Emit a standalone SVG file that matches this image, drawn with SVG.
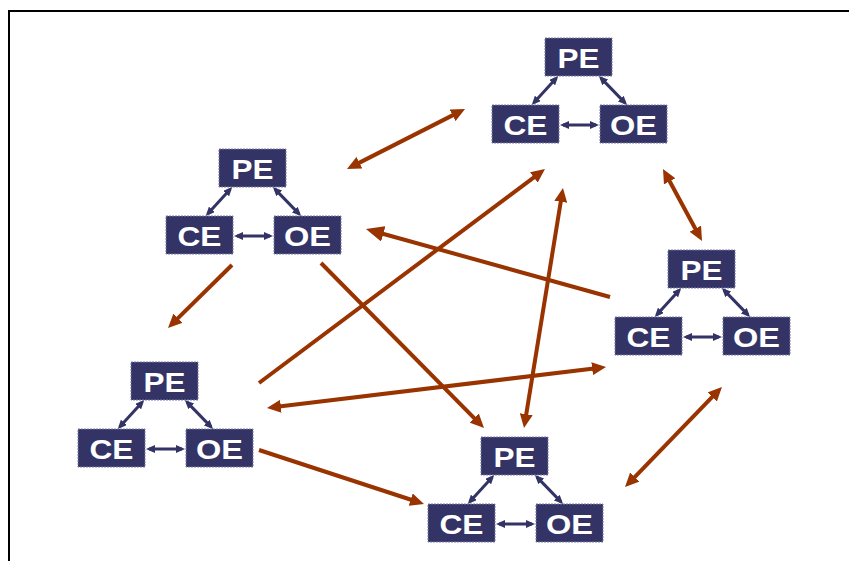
<svg xmlns="http://www.w3.org/2000/svg" width="849" height="561" viewBox="0 0 849 561">
  <style>
    .box { fill: #333366; stroke: #7c7ca4; stroke-width: 1; stroke-dasharray: 2 1; }
    .lbl { fill: #ffffff; font-family: "Liberation Sans", Arial, sans-serif; font-weight: bold; font-size: 28px; text-anchor: middle; }
    .inner { stroke: #333366; stroke-width: 3; fill: none; marker-start: url(#tipS); marker-end: url(#tipS); }
    .link { stroke: #993300; stroke-width: 4; fill: none; }
    .one { marker-end: url(#head); }
    .two { marker-start: url(#head); marker-end: url(#head); }
  </style>
  <defs>
    <marker id="head" markerUnits="userSpaceOnUse" markerWidth="14" markerHeight="13" refX="6" refY="6.5" orient="auto-start-reverse">
      <path d="M0,0 L14,6.5 L0,13 z" fill="#993300"/>
    </marker>
    <marker id="headBig" markerUnits="userSpaceOnUse" markerWidth="18" markerHeight="16" refX="8" refY="8" orient="auto-start-reverse">
      <path d="M0,0 L18,8 L0,16 z" fill="#993300"/>
    </marker>
    <marker id="tipS" markerUnits="userSpaceOnUse" markerWidth="9" markerHeight="8" refX="6" refY="4" orient="auto-start-reverse">
      <path d="M0,0 L9,4 L0,8 z" fill="#333366"/>
    </marker>
    <!-- one PE / CE / OE triad, origin at the CE box's top-left corner -->
    <g id="triad-links">
      <line class="inner" x1="64.2" y1="-26.8" x2="41.8" y2="-2.2"/>
      <line class="inner" x1="109" y1="-26.9" x2="133" y2="-2.1"/>
      <line class="inner" x1="71" y1="20" x2="104" y2="20"/>
    </g>
  </defs>

  <!-- frame -->
  <path d="M9,561 L9,11 L849,11" fill="none" stroke="#000" stroke-width="2"/>

  <!-- connectors -->
  <g id="connectors">
    <g id="triad-connectors">
      <use href="#triad-links" transform="translate(492,105)"/>
      <use href="#triad-links" transform="translate(166,216)"/>
      <use href="#triad-links" transform="translate(615,317)"/>
      <use href="#triad-links" transform="translate(78,429)"/>
      <use href="#triad-links" transform="translate(428,504)"/>
    </g>
    <line class="link two" x1="354.1" y1="165.4" x2="457.9" y2="112.6"/>
    <line class="link two" x1="666.8" y1="176.0" x2="698.2" y2="234.0"/>
    <line class="link" stroke-width="6" marker-end="url(#headBig)" x1="610" y1="297" x2="375.6" y2="231.7"/>
    <line class="link one" x1="232" y1="265" x2="173.7" y2="322.4"/>
    <line class="link one" x1="321" y1="263" x2="478.4" y2="422.3"/>
    <line class="link one" x1="259" y1="383" x2="538.6" y2="173.8"/>
    <line class="link two" x1="274.9" y1="407.0" x2="598.1" y2="368.0"/>
    <line class="link one" x1="259" y1="450" x2="416.4" y2="501.5"/>
    <line class="link two" x1="561.7" y1="195.9" x2="525.3" y2="420.1"/>
    <line class="link two" x1="716.4" y1="392.7" x2="630.6" y2="481.3"/>
  </g>

  <!-- triad 1 (top) -->
  <g id="pe-1" transform="translate(545,38)"><rect class="box" width="67" height="38"/><text class="lbl" x="33.5" y="30" textLength="42" lengthAdjust="spacingAndGlyphs">PE</text></g>
  <g id="ce-1" transform="translate(492,105)"><rect class="box" width="67" height="38"/><text class="lbl" x="33.5" y="30" textLength="44" lengthAdjust="spacingAndGlyphs">CE</text></g>
  <g id="oe-1" transform="translate(600,105)"><rect class="box" width="67" height="38"/><text class="lbl" x="33.5" y="30" textLength="47" lengthAdjust="spacingAndGlyphs">OE</text></g>

  <!-- triad 2 (upper left) -->
  <g id="pe-2" transform="translate(219,149)"><rect class="box" width="67" height="38"/><text class="lbl" x="33.5" y="30" textLength="42" lengthAdjust="spacingAndGlyphs">PE</text></g>
  <g id="ce-2" transform="translate(166,216)"><rect class="box" width="67" height="38"/><text class="lbl" x="33.5" y="30" textLength="44" lengthAdjust="spacingAndGlyphs">CE</text></g>
  <g id="oe-2" transform="translate(274,216)"><rect class="box" width="67" height="38"/><text class="lbl" x="33.5" y="30" textLength="47" lengthAdjust="spacingAndGlyphs">OE</text></g>

  <!-- triad 3 (right) -->
  <g id="pe-3" transform="translate(668,250)"><rect class="box" width="67" height="38"/><text class="lbl" x="33.5" y="30" textLength="42" lengthAdjust="spacingAndGlyphs">PE</text></g>
  <g id="ce-3" transform="translate(615,317)"><rect class="box" width="67" height="38"/><text class="lbl" x="33.5" y="30" textLength="44" lengthAdjust="spacingAndGlyphs">CE</text></g>
  <g id="oe-3" transform="translate(723,317)"><rect class="box" width="67" height="38"/><text class="lbl" x="33.5" y="30" textLength="47" lengthAdjust="spacingAndGlyphs">OE</text></g>

  <!-- triad 4 (lower left) -->
  <g id="pe-4" transform="translate(131,362)"><rect class="box" width="67" height="38"/><text class="lbl" x="33.5" y="30" textLength="42" lengthAdjust="spacingAndGlyphs">PE</text></g>
  <g id="ce-4" transform="translate(78,429)"><rect class="box" width="67" height="38"/><text class="lbl" x="33.5" y="30" textLength="44" lengthAdjust="spacingAndGlyphs">CE</text></g>
  <g id="oe-4" transform="translate(186,429)"><rect class="box" width="67" height="38"/><text class="lbl" x="33.5" y="30" textLength="47" lengthAdjust="spacingAndGlyphs">OE</text></g>

  <!-- triad 5 (bottom centre) -->
  <g id="pe-5" transform="translate(481,437)"><rect class="box" width="67" height="38"/><text class="lbl" x="33.5" y="30" textLength="42" lengthAdjust="spacingAndGlyphs">PE</text></g>
  <g id="ce-5" transform="translate(428,504)"><rect class="box" width="67" height="38"/><text class="lbl" x="33.5" y="30" textLength="44" lengthAdjust="spacingAndGlyphs">CE</text></g>
  <g id="oe-5" transform="translate(536,504)"><rect class="box" width="67" height="38"/><text class="lbl" x="33.5" y="30" textLength="47" lengthAdjust="spacingAndGlyphs">OE</text></g>
</svg>
